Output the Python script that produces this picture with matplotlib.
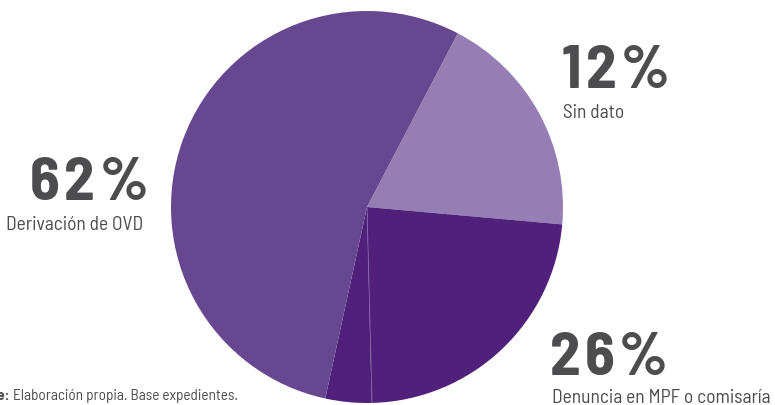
import matplotlib
matplotlib.use("Agg")
import matplotlib.pyplot as plt
from matplotlib import font_manager

# Data
categories = ["Sin dato", "Denuncia en MPF o comisaría", "Denuncia en MPF o comisaría (b)", "Derivación de OVD"]
wedge_share = [18.75, 23.2, 3.8, 54.25]   # drawn wedge sizes (as they appear)
pct_labels = ["12%", "26%", "62%"]
label_names = ["Sin dato", "Denuncia en MPF o comisaría", "Derivación de OVD"]
source_bold = "Fuente:"
source_rest = " Elaboración propia. Base expedientes."

colors = ["#957EB3", "#50207A", "#50207A", "#674790"]
txt_color = "#4D4D4F"

names = {f.name for f in font_manager.fontManager.ttflist}
font = "Barlow Semi Condensed" if "Barlow Semi Condensed" in names else "DejaVu Sans"

W, H = 775, 406
fig = plt.figure(figsize=(W / 100, H / 100), dpi=100)

cx, cy, r = 367, 208, 196
ax = fig.add_axes([(cx - r) / W, (H - cy - r) / H, 2 * r / W, 2 * r / H])
ax.pie(wedge_share, colors=colors, startangle=90 - 27.6, counterclock=False,
       radius=1.0, wedgeprops=dict(linewidth=0, antialiased=True))
ax.set_xlim(-1, 1)
ax.set_ylim(-1, 1)
ax.set_aspect("equal")
ax.axis("off")
# faint seam between the two dark pieces
ax.plot([0, 0.026], [0, -0.995], color="#8a6fb0", lw=0.6, alpha=0.8)

renderer = fig.canvas.get_renderer()


def T(x, y, s, **kw):
    return fig.text(x / W, 1 - y / H, s, color=txt_color, family=[font, "DejaVu Sans"], **kw)


def tracked(x, y, s, ha="left", track=4.5, **kw):
    # draw characters one by one with extra spacing (pixel units)
    widths = []
    for ch in s:
        t = T(0, y, ch, ha="left", **kw)
        widths.append(t.get_window_extent(renderer).width)
        t.remove()
    total = sum(widths) + track * (len(s) - 1)
    x0 = x - total if ha == "right" else x
    for ch, w in zip(s, widths):
        T(x0, y, ch, ha="left", **kw)
        x0 += w + track


big = dict(fontsize=44, fontweight="bold", va="center")
small = dict(fontsize=14, va="center")

tracked(148, 184, pct_labels[2], ha="right", **big)
T(143, 225, label_names[2], ha="right", **small)

tracked(562, 72, pct_labels[0], ha="left", **big)
T(563, 113, label_names[0], ha="left", **small)

tracked(550, 359, pct_labels[1], ha="left", **big)
T(552, 398, label_names[1], ha="left", **small)

T(10, 396, source_bold, ha="right", fontsize=11, fontweight="bold", va="center")
T(10, 396, source_rest, ha="left", fontsize=11, va="center")

fig.savefig("out.png", dpi=100)
